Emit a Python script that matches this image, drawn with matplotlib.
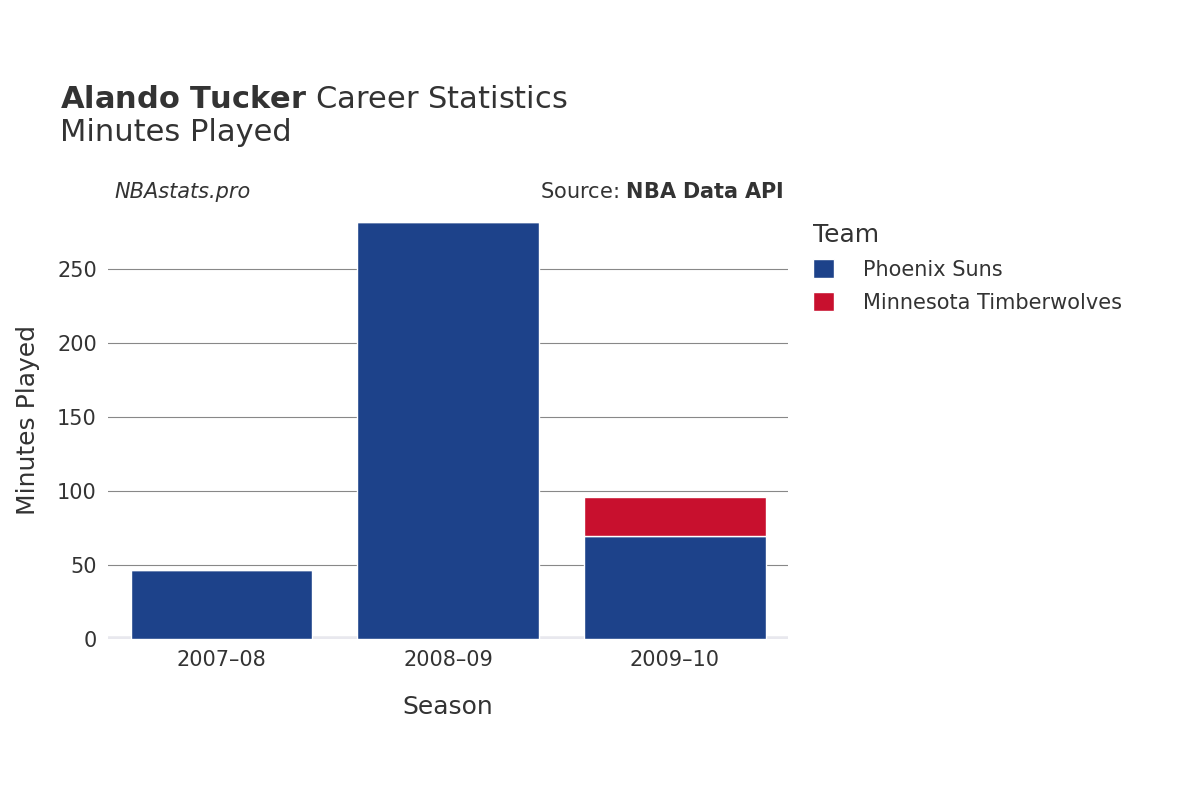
import matplotlib
matplotlib.use("Agg")
import matplotlib.pyplot as plt

seasons = ["2007–08", "2008–09", "2009–10"]
teams = ["Phoenix Suns", "Minnesota Timberwolves"]
colors = ["#1d428a", "#c8102e"]
phx = [47, 282, 70]
min_ = [0, 0, 26]
yticks = [0, 50, 100, 150, 200, 250]

fig = plt.figure(figsize=(12, 8), dpi=100)
ax = fig.add_axes([0.09, 0.201, 0.567, 0.5475])
x = range(len(seasons))
ax.bar(x, phx, width=0.8, color=colors[0], edgecolor="white", linewidth=1, label=teams[0], zorder=3)
ax.bar(x, min_, bottom=phx, width=0.8, color=colors[1], edgecolor="white", linewidth=1, label=teams[1], zorder=3)
ax.set_xlim(-0.5, 2.5)
ax.set_ylim(0, 296)
ax.set_yticks(yticks)
ax.set_xticks(list(x))
ax.set_xticklabels(seasons)
ax.grid(axis="y", color="#888888", linewidth=0.8, zorder=0)
for s in ax.spines.values():
    s.set_visible(False)
ax.axhline(0, color="#e8e8ee", linewidth=4, zorder=2)
ax.tick_params(length=0, labelsize=15, colors="#333333", pad=8)
ax.set_xlabel("Season", fontsize=18, color="#333333", labelpad=18)
ax.set_ylabel("Minutes Played", fontsize=18, color="#333333", labelpad=12)

fig.text(0.05, 0.876, r"$\bf{Alando\ Tucker}$ Career Statistics", fontsize=22, color="#333333", va="center")
fig.text(0.05, 0.834, "Minutes Played", fontsize=22, color="#333333", va="center")
fig.text(0.095, 0.76, "NBAstats.pro", fontsize=15, style="italic", color="#333333", va="center")
fig.text(0.653, 0.76, r"Source: $\bf{NBA\ Data\ API}$", fontsize=15, color="#333333", va="center", ha="right")

leg = fig.legend(handles=ax.containers and [ax.containers[0], ax.containers[1]], labels=teams,
                 loc="upper left", bbox_to_anchor=(0.662, 0.745), frameon=False, fontsize=15,
                 title="Team", title_fontsize=18, handlelength=1.0, handleheight=1.0,
                 labelspacing=0.6, handletextpad=1.4, alignment="left")
for t in leg.get_texts():
    t.set_color("#333333")
leg.get_title().set_color("#333333")
fig.savefig("out.png")
